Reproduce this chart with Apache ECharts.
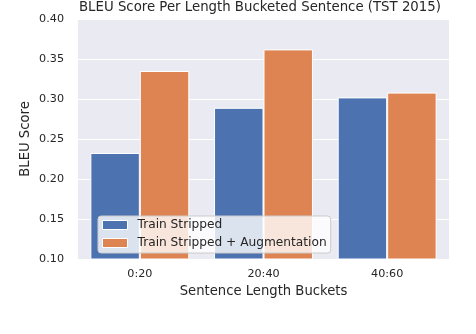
<!DOCTYPE html>
<html><head><meta charset="utf-8">
<script src="https://cdn.jsdelivr.net/npm/echarts@6/dist/echarts.min.js"></script>
<style>html,body{margin:0;padding:0;background:#fff}#c{width:476px;height:334px}</style>
</head><body><div id="c"></div>
<script>
var categories = ['0:20', '20:40', '40:60'];
var seriesNames = ['Train Stripped', 'Train Stripped + Augmentation'];
var trainStripped = [0.2325, 0.289, 0.302];
var trainAug = [0.335, 0.362, 0.308];
var yTicks = [0.10, 0.15, 0.20, 0.25, 0.30, 0.35, 0.40];

var font = 'DejaVu Sans';
var txt = '#262626';
var chart = echarts.init(document.getElementById('c'), null, {renderer: 'canvas'});
chart.setOption({
  animation: false,
  backgroundColor: '#fff',
  title: {
    text: 'BLEU Score Per Length Bucketed Sentence (TST 2015)',
    left: 79, top: 0, padding: 0,
    textStyle: {fontFamily: font, fontSize: 13.3, fontWeight: 'normal', color: txt, lineHeight: 15}
  },
  grid: {left: 78, right: 27, top: 19, bottom: 75, show: true, backgroundColor: '#EAEAF2', borderWidth: 0},
  legend: {
    orient: 'vertical',
    left: 98, top: 216,
    data: seriesNames,
    itemWidth: 25, itemHeight: 9, itemGap: 4,
    padding: [2, 4, 3, 4],
    backgroundColor: 'rgba(255,255,255,0.8)',
    borderColor: '#CCCCCC', borderWidth: 1, borderRadius: 3,
    icon: 'rect',
    itemStyle: {borderColor: '#fff', borderWidth: 1},
    textStyle: {fontFamily: font, fontSize: 12.2, color: txt, lineHeight: 14, padding: [0, 0, 0, 5]}
  },
  xAxis: {
    type: 'category', data: categories,
    axisLine: {show: false}, axisTick: {show: false},
    axisLabel: {fontFamily: font, fontSize: 11.2, color: txt, margin: 10},
    splitLine: {show: false},
    name: 'Sentence Length Buckets', nameLocation: 'middle', nameGap: 25,
    nameTextStyle: {fontFamily: font, fontSize: 13.2, color: txt}
  },
  yAxis: {
    type: 'value', min: yTicks[0], max: yTicks[yTicks.length - 1], interval: 0.05,
    axisLine: {show: false}, axisTick: {show: false},
    axisLabel: {fontFamily: font, fontSize: 11.2, color: txt, margin: 14,
      formatter: function (v) { return v.toFixed(2); }},
    splitLine: {show: true, lineStyle: {color: '#fff', width: 1}},
    name: 'BLEU Score', nameLocation: 'middle', nameGap: 46, nameMoveOverlap: false,
    nameTextStyle: {fontFamily: font, fontSize: 13.2, color: txt}
  },
  series: [
    {name: seriesNames[0], type: 'bar', data: trainStripped, barGap: '0%', barCategoryGap: '20%',
     itemStyle: {color: '#4C72B0', borderColor: '#fff', borderWidth: 1}},
    {name: seriesNames[1], type: 'bar', data: trainAug, barGap: '0%', barCategoryGap: '20%',
     itemStyle: {color: '#DD8452', borderColor: '#fff', borderWidth: 1}}
  ]
});
</script></body></html>
